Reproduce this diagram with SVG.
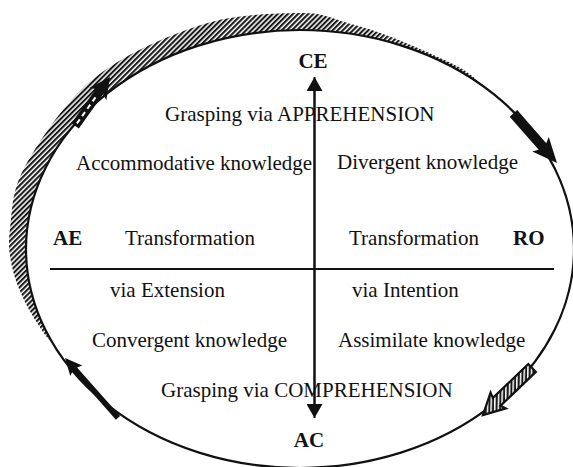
<svg xmlns="http://www.w3.org/2000/svg" width="573" height="467" viewBox="0 0 573 467">
<style>
  .t { font-family: "Liberation Serif", "Times New Roman", serif; font-size: 21px; fill: #111; }
  .b { font-weight: bold; }
  .ln { stroke: #111; stroke-width: 2; fill: none; }
</style>
<defs>
  <pattern id="hatch" patternUnits="userSpaceOnUse" width="3.6" height="3.6" patternTransform="rotate(45)">
    <rect width="3.6" height="3.6" fill="#fff"/>
    <rect width="2.1" height="3.6" fill="#1a1a1a"/>
  </pattern>
  <marker id="ah" viewBox="0 0 14 16" refX="14" refY="8" markerWidth="14" markerHeight="16" markerUnits="userSpaceOnUse" orient="auto">
    <path d="M0,0 L14,8 L0,16 Z" fill="#111"/>
  </marker>
</defs>
<rect width="573" height="467" fill="#fff"/>

<g id="cycle">
  <path id="band" fill="url(#hatch)" d="M51.7,341.5 C50.3,340 47.9,339.2 43.3,332.4 C38.75,325.6 29.7,311.9 24.4,300.8 C19.1,289.7 14.1,277.7 11.7,265.6 C9.3,253.5 7.85,244.6 10.1,228 C12.35,211.4 11.25,191.1 25.2,166.2 C39.15,141.3 64.5,102 93.8,78.5 C123.1,55 166.6,35.9 201,25 C235.4,14.1 275.3,13.3 300,13 C324.7,12.7 333.15,19.2 349,23.4 C364.85,27.6 376.8,31.1 395.1,38.4 C413.4,45.7 444,59 458.7,67 C473.4,75 479.2,83.1 483.3,86.3 A274,219 0 0 0 51.7,341.5 Z"/>
  <ellipse cx="300" cy="249" rx="274" ry="219" fill="none" stroke="#111" stroke-width="2.2"/>
</g>

<g id="cycle-arrows">
  <g id="arrow-top-left" transform="translate(110,77) rotate(-54.5)">
    <path d="M-60,-4.5 L-18,-4.5 L-21,-10.5 L0,0 L-21,10.5 L-18,4.5 L-60,4.5 Z" fill="#111"/>
    <line x1="-57" y1="0" x2="-22" y2="0" stroke="#fff" stroke-width="2" stroke-dasharray="5 4"/>
  </g>
  <g id="arrow-top-right" transform="translate(557,163) rotate(48.7)">
    <path d="M-66,-5 L-22,-5 L-25,-11 L0,0 L-25,11 L-22,5 L-66,5 Z" fill="#111"/>
  </g>
  <g id="arrow-bottom-right" transform="translate(483,415) rotate(136.2)">
    <path d="M-68,-5.5 L-19,-5.5 L-21,-11 L0,0 L-21,11 L-19,5.5 L-68,5.5 Z" fill="url(#hatch)" stroke="#111" stroke-width="2.2"/>
  </g>
  <g id="arrow-bottom-left" transform="translate(65,358) rotate(-131.5)">
    <path d="M-80,-2.8 L-15,-2.8 L-17,-8 L0,0 L-17,8 L-15,2.8 L-80,2.8 Z" fill="#111"/>
  </g>
</g>

<g id="connectors">
  <line class="ln" x1="314.5" y1="406" x2="314.5" y2="77" marker-end="url(#ah)"/>
  <line class="ln" x1="314.5" y1="90" x2="314.5" y2="418" marker-end="url(#ah)"/>
  <line class="ln" x1="50" y1="269" x2="554" y2="269"/>
</g>

<g id="CE"><text class="t b" x="313" y="68" text-anchor="middle">CE</text></g>
<g id="AC"><text class="t b" x="309" y="447" text-anchor="middle">AC</text></g>
<g id="AE"><text class="t b" x="53" y="245">AE</text></g>
<g id="RO"><text class="t b" x="513" y="245">RO</text></g>

<g id="apprehension"><text class="t" x="165" y="121">Grasping via APPREHENSION</text></g>
<g id="accommodative"><text class="t" x="76" y="170">Accommodative knowledge</text></g>
<g id="divergent"><text class="t" x="337" y="169">Divergent knowledge</text></g>
<g id="transformation-left"><text class="t" x="125" y="245">Transformation</text></g>
<g id="transformation-right"><text class="t" x="349" y="245">Transformation</text></g>
<g id="extension"><text class="t" x="110" y="297">via Extension</text></g>
<g id="intention"><text class="t" x="352" y="297">via Intention</text></g>
<g id="convergent"><text class="t" x="92" y="347">Convergent knowledge</text></g>
<g id="assimilate"><text class="t" x="338" y="347">Assimilate knowledge</text></g>
<g id="comprehension"><text class="t" x="161" y="397">Grasping via COMPREHENSION</text></g>
</svg>
